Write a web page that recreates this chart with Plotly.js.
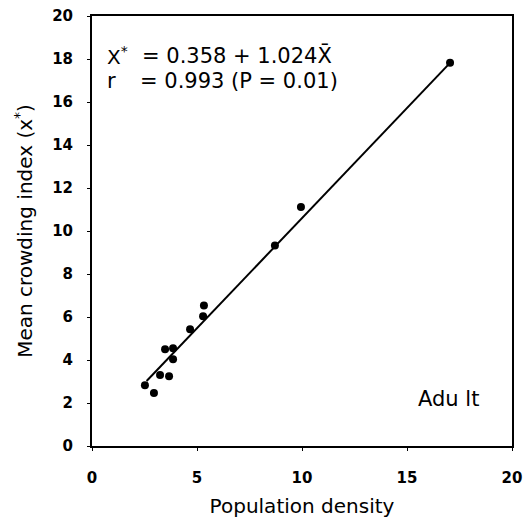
<!DOCTYPE html>
<html>
<head>
<meta charset="utf-8">
<script src="https://cdn.plot.ly/plotly-3.0.1.min.js"></script>
<style>html,body{margin:0;padding:0;background:#fff;}#chart{width:526px;height:525px;}</style>
</head>
<body>
<div id="chart"></div>
<script>
const popDensity = [2.52, 2.95, 3.24, 3.67, 3.48, 3.86, 3.86, 4.67, 5.29, 5.33, 8.71, 9.95, 17.05];
const crowding   = [2.83, 2.46, 3.30, 3.25, 4.50, 4.55, 4.04, 5.43, 6.04, 6.54, 9.33, 11.12, 17.82];
const intercept = 0.358;
const slope = 1.024;
const fitX = [2.6, 17.05];
const fitY = fitX.map(x => intercept + slope * x);
const xTicks = [0, 5, 10, 15, 20];
const yTicks = [0, 2, 4, 6, 8, 10, 12, 14, 16, 18, 20];

const font = {family: 'DejaVu Sans, sans-serif', color: '#000'};
const f = (size, weight) => Object.assign({size: size, weight: weight || 'normal'}, font);

const data = [
  {x: fitX, y: fitY, mode: 'lines', line: {color: '#000', width: 2}, hoverinfo: 'skip', showlegend: false},
  {x: popDensity, y: crowding, mode: 'markers', marker: {color: '#000', size: 8, symbol: 'circle'}, showlegend: false}
];

const layout = {
  width: 526, height: 525,
  margin: {l: 92, r: 14, t: 16, b: 79},
  paper_bgcolor: '#fff', plot_bgcolor: '#fff',
  font: f(15),
  showlegend: false,
  xaxis: {
    range: [0, 20], tickvals: xTicks, ticktext: xTicks.map(String),
    showgrid: false, zeroline: false, showline: true, mirror: true,
    linecolor: '#000', linewidth: 2, ticks: 'outside', ticklen: 3, tickcolor: '#000',
    ticklabelstandoff: 14,
    tickfont: f(15, 'bold'),
    title: {text: 'Population density', font: f(20), standoff: 13}
  },
  yaxis: {
    range: [0, 20], tickvals: yTicks, ticktext: yTicks.map(String),
    showgrid: false, zeroline: false, showline: true, mirror: true,
    linecolor: '#000', linewidth: 2, ticks: 'outside', ticklen: 3, tickcolor: '#000',
    ticklabelstandoff: 11,
    tickfont: f(15, 'bold'),
    title: {text: 'Mean crowding index (x<sup>*</sup>)', font: f(20), standoff: 14}
  },
  annotations: [
    {xref: 'paper', yref: 'paper', x: 0.031, y: 0.908, xanchor: 'left', yanchor: 'middle', showarrow: false,
     text: 'X<sup>*</sup>', font: f(20)},
    {xref: 'paper', yref: 'paper', x: 0.114, y: 0.908, xanchor: 'left', yanchor: 'middle', showarrow: false,
     text: '= 0.358 + 1.024X\u0304', font: f(21)},
    {xref: 'paper', yref: 'paper', x: 0.031, y: 0.848, xanchor: 'left', yanchor: 'middle', showarrow: false,
     text: 'r', font: f(21)},
    {xref: 'paper', yref: 'paper', x: 0.110, y: 0.848, xanchor: 'left', yanchor: 'middle', showarrow: false,
     text: '= 0.993 (P = 0.01)', font: f(21)},
    {xref: 'paper', yref: 'paper', x: 0.848, y: 0.11, xanchor: 'center', yanchor: 'middle', showarrow: false,
     text: 'Adu lt', font: f(21)}
  ]
};

Plotly.newPlot('chart', data, layout, {staticPlot: true, displayModeBar: false});
</script>
</body>
</html>
